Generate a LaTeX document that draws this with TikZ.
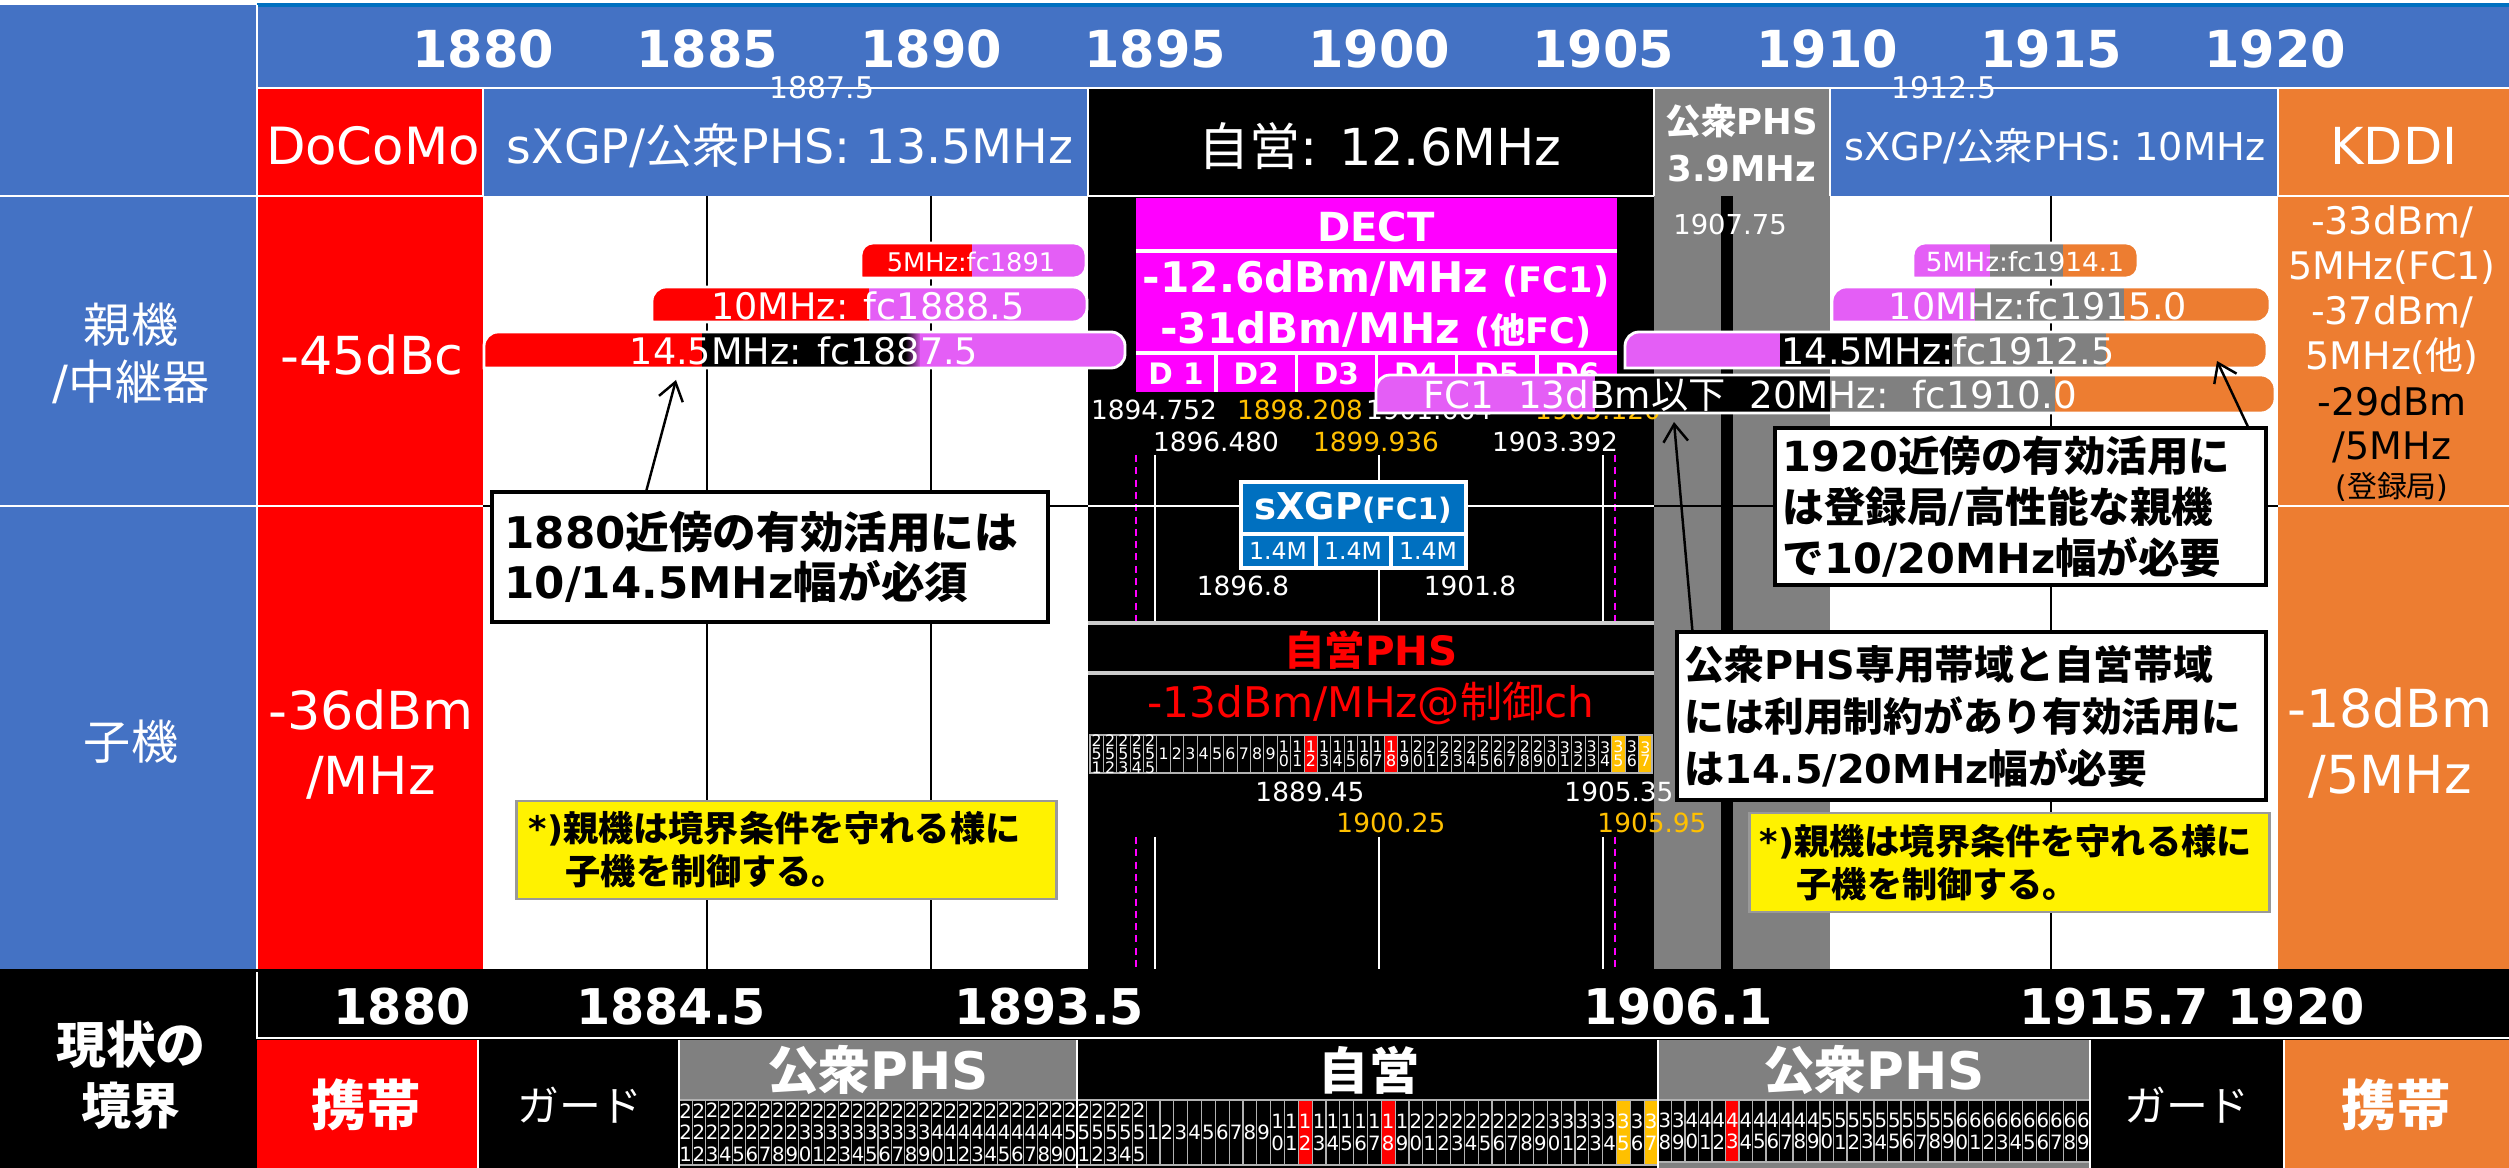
\documentclass[tikz,border=0pt]{standalone}
\usepackage{fontspec}
\setmainfont{DejaVu Sans}
\newfontfamily\latf{DejaVu Sans}
\newfontfamily\cjkf{Noto Sans CJK JP}
\usetikzlibrary{arrows.meta,calc}
\definecolor{hblue}{HTML}{4472C4}
\definecolor{dblue}{HTML}{0070C0}
\definecolor{korange}{HTML}{ED7D31}
\definecolor{pgray}{HTML}{808080}
\definecolor{lmag}{HTML}{E45EF6}
\definecolor{amber}{HTML}{FFC000}
\definecolor{dmag}{HTML}{FF00FF}
\newcommand\fsz[2]{\fontsize{#1pt}{#2pt}\selectfont}
\def\digstack#1#2\relax{#1\ifx\relax#2\relax\else\\\digstack#2\relax\fi}
\newXeTeXintercharclass\CJKcls
\newcount\cjkcnt
\newcommand\setcjkrange[2]{\cjkcnt=#1\relax
  \loop\XeTeXcharclass\cjkcnt=\CJKcls
  \ifnum\cjkcnt<#2\relax\advance\cjkcnt by 1\relax\repeat}
\setcjkrange{"3000}{"30FF}
\setcjkrange{"4E00}{"9FFF}
\setcjkrange{"FF00}{"FFEF}
\XeTeXinterchartoks 0 \CJKcls = {\cjkf}
\XeTeXinterchartoks 4095 \CJKcls = {\cjkf}
\XeTeXinterchartoks \CJKcls 0 = {\latf}
\XeTeXinterchartoks \CJKcls 4095 = {\latf}
\AtBeginDocument{\XeTeXinterchartokenstate=1}
\newcommand\chgrid[7]{%
  \foreach \x [count=\i from 0] in {#7} {%
    \pgfmathsetmacro\xa{#1+\i*#2}%
    \pgfmathsetmacro\xb{#1+(\i+1)*#2}%
    \pgfmathsetmacro\xm{#1+(\i+0.5)*#2}%
    \def\cellcol{black}%
    \ifnum\x=12 \def\cellcol{red}\fi
    \ifnum\x=18 \def\cellcol{red}\fi
    \ifnum\x=43 \def\cellcol{red}\fi
    \ifnum\x=35 \def\cellcol{amber}\fi
    \ifnum\x=37 \def\cellcol{amber}\fi
    \fill[\cellcol] (\xa,#3) rectangle (\xb,#4);
    \draw[gridln] (\xa,#3) rectangle (\xb,#4);
    \node[text=white,font=#5,align=center] (#6\i) at (\xm,{(#3+#4)/2}) {\expandafter\digstack\x\relax};
  }}
\begin{document}
\begin{tikzpicture}[x=0.01cm,y=-0.01cm,
  every node/.style={inner sep=0pt,outer sep=0pt},
  wt/.style={text=white},
  bline/.style={black,line width=0.6pt},
  wline/.style={white,line width=0.7pt},
  mdashl/.style={dmag,dashed,line width=0.5pt,dash pattern=on 2pt off 1.5pt},
  lgline/.style={white!80!black,line width=0.9pt},
  gridln/.style={white!70!black,line width=0.3pt},
  callout/.style={draw=black,line width=1.1pt,fill=white,align=left,inner ysep=0pt},
  ynote/.style={draw=black!40,line width=0.8pt,fill=yellow,align=left,inner ysep=0pt,font=\bfseries\fsz{10}{12.3}},
  arr/.style={-{Straight Barb[length=5pt,width=7pt]},line width=0.7pt},
  flab/.style={font=\fsz{7.5}{8}},
  bartext/.style={text=white,font=\fsz{10.4}{11}},
  barout/.style={white,line width=0.8pt}]
\useasboundingbox (0,0) rectangle (2509,1168);
\fill[white] (0,0) rectangle (2509,1168);
% ---------- backgrounds
\fill[hblue] (0,5) rectangle (257,969);
\fill[hblue] (257,5) rectangle (2509,87);
\draw[dblue,line width=1.2pt] (257,5) -- (2509,5);
\fill[red] (257,89) rectangle (483,969);
\fill[hblue] (483,89) rectangle (1088,196);
\fill[black] (1088,89) rectangle (1654,969);
\fill[pgray] (1654,89) rectangle (1830,969);
\fill[hblue] (1830,89) rectangle (2278,196);
\fill[korange] (2278,89) rectangle (2509,969);
% ---------- body lines
\foreach \xx in {707,931,2051} \draw[bline] (\xx,196) -- (\xx,969);
\draw[bline] (483,506) -- (1088,506);
\draw[bline] (1654,506) -- (2278,506);
\fill[black] (1721,196) rectangle (1733,969);
\foreach \xx in {1155,1379,1603} {\draw[wline] (\xx,455) -- (\xx,623); \draw[wline] (\xx,837) -- (\xx,969);}
\foreach \xx in {1136,1615} {\draw[mdashl] (\xx,455) -- (\xx,623); \draw[mdashl] (\xx,837) -- (\xx,969);}
\draw[wline] (1088,506) -- (1654,506);
\draw[wline] (0,506) -- (483,506);
\draw[wline] (2278,506) -- (2509,506);
\draw[wline] (0,196) -- (483,196);
\draw[wline] (1088,196) -- (1654,196);
\draw[wline] (2278,196) -- (2509,196);
\draw[wline] (257,88) -- (2509,88);
\draw[wline] (257,5) -- (257,969);
\foreach \xx in {483,1088,1654,1830,2278} \draw[wline] (\xx,89) -- (\xx,196);
% ---------- header texts
\foreach \f in {1880,1885,...,1920}
  \node[wt,font=\bfseries\fsz{14.5}{16}] (yr\f) at ({483+(\f-1880)*44.8},49) {\f};
\node[wt,font=\fsz{8.5}{9}] (m1) at (822,88) {1887.5};
\node[wt,font=\fsz{8.5}{9}] (m2) at (1944,88) {1912.5};
\node[wt,font=\fsz{14.6}{16}] (docomo) at (373,146) {DoCoMo};
\node[wt,font=\fsz{13.5}{15}] (sx1) at (790,146) {sXGP/公衆PHS: 13.5MHz};
\node[wt,font=\fsz{14.5}{16}] (jiei) at (1380,146) {自営: 12.6MHz};
\node[wt,font=\bfseries\fsz{10.1}{13.4},align=center] (pub39) at (1742,143) {公衆PHS\\3.9MHz};
\node[wt,font=\fsz{10.9}{12}] (sx2) at (2055,146) {sXGP/公衆PHS: 10MHz};
\node[wt,font=\fsz{14.5}{16}] (kddi) at (2394,146) {KDDI};
% ---------- left columns
\node[wt,font=\fsz{13.4}{16.2},align=center] (oya) at (131,353) {親機\\/中継器};
\node[wt,font=\fsz{13.4}{15}] (ko) at (131,742) {子機};
\node[wt,font=\fsz{14.9}{17}] (c45) at (372,355) {-45dBc};
\node[wt,font=\fsz{14.9}{18.5},align=center] (c36) at (371,745) {-36dBm\\/MHz};
% ---------- KDDI column
\node[wt,font=\fsz{10.8}{12.8},align=center] (k1) at (2392,290) {-33dBm/\\5MHz(FC1)\\-37dBm/\\5MHz(他)};
\node[font=\fsz{10.8}{12.5},align=center] (k2) at (2392,425) {-29dBm\\/5MHz};
\node[font=\fsz{8.5}{9}] (k3) at (2392,487) {(登録局)};
\node[wt,font=\fsz{14.9}{19},align=center] (k4) at (2390,743) {-18dBm\\/5MHz};
% ---------- gray column label
\node[wt,font=\fsz{7.8}{8}] (g1) at (1730,225) {1907.75};
% ---------- DECT
\fill[dmag] (1136,198) rectangle (1617,392);
\draw[white,line width=1pt] (1136,251) -- (1617,251) (1136,353) -- (1617,353);
\foreach \k in {1,...,5} \draw[white,line width=1pt] ({1136+\k*80.17},353) -- ({1136+\k*80.17},392);
\node[wt,font=\bfseries\fsz{11.4}{12}] (dect) at (1376,227) {DECT};
\node[wt,font=\bfseries\fsz{12}{13}] (dd1) at (1376,279) {-12.6dBm/MHz {\fsz{10}{11}(FC1)}};
\node[wt,font=\bfseries\fsz{12}{13}] (dd2) at (1376,330) {-31dBm/MHz {\fsz{10}{11}(他FC)}};
\foreach \k/\lab in {1/D 1,2/D2,3/D3,4/D4,5/D5,6/D6}
  \node[wt,font=\bfseries\fsz{8.4}{9}] (dc\k) at ({1136+(\k-0.5)*80.17},374) {\lab};
\node[wt,flab] (f1) at (1154,410) {1894.752};
\node[text=amber,flab] (f2) at (1300,410) {1898.208};
\node[wt,flab] (f3) at (1429,410) {1901.664};
\node[text=amber,flab] (f4) at (1598,410) {1905.120};
\node[wt,flab] (f5) at (1216,442) {1896.480};
\node[text=amber,flab] (f6) at (1376,442) {1899.936};
\node[wt,flab] (f7) at (1555,442) {1903.392};
% ---------- sXGP
\fill[dblue] (1241,482) rectangle (1466,568);
\draw[white,line width=1pt] (1241,482) rectangle (1466,568) (1241,534) -- (1466,534) (1316,534) -- (1316,568) (1391,534) -- (1391,568);
\node[wt,font=\bfseries\fsz{10.5}{11}] (sxgp) at (1353,508) {sXGP{\fsz{8.4}{9}(FC1)}};
\node[wt,font=\fsz{6.7}{7}] (s1) at (1278,551) {1.4M};
\node[wt,font=\fsz{6.7}{7}] (s2) at (1353,551) {1.4M};
\node[wt,font=\fsz{6.7}{7}] (s3) at (1428,551) {1.4M};
\node[wt,flab] (s4) at (1243,586) {1896.8};
\node[wt,flab] (s5) at (1470,586) {1901.8};
% ---------- private PHS
\draw[lgline] (1088,623) -- (1654,623) (1088,673) -- (1654,673);
\node[text=red,font=\bfseries\fsz{11.5}{12}] (jphs) at (1371,650) {自営PHS};
\node[text=red,font=\fsz{12}{13}] (jdbm) at (1371,703) {-13dBm/MHz@制御ch};
\chgrid{1090}{13.38}{735}{773}{\fsz{4.5}{3.85}}{mg}{251,252,253,254,255,1,2,3,4,5,6,7,8,9,10,11,12,13,14,15,16,17,18,19,20,21,22,23,24,25,26,27,28,29,30,31,32,33,34,35,36,37}
\node[wt,flab] (p1) at (1310,792) {1889.45};
\node[wt,flab] (p2) at (1619,792) {1905.35};
\node[text=amber,flab] (p3) at (1391,823) {1900.25};
\node[text=amber,flab] (p4) at (1652,823) {1905.95};
% ---------- bars left
\begin{scope}
\clip (861,278) [rounded corners=0.12cm] -- (861,243) -- (1086,243) -- (1086,278) [sharp corners] -- cycle;
\fill[red] (861,243) rectangle (972,278);
\fill[lmag] (972,243) rectangle (1086,278);
\end{scope}
\draw[barout] (861,278) [rounded corners=0.12cm] -- (861,243) -- (1086,243) -- (1086,278) [sharp corners] -- cycle;
\node[wt,font=\fsz{7.3}{8}] (bl5) at (971,262) {5MHz:fc1891};
\begin{scope}
\clip (652,322) [rounded corners=0.14cm] -- (652,287) -- (1087,287) -- (1087,322) [sharp corners] -- cycle;
\fill[red] (652,287) rectangle (869,322);
\fill[lmag] (869,287) rectangle (1087,322);
\end{scope}
\draw[barout] (652,322) [rounded corners=0.14cm] -- (652,287) -- (1087,287) -- (1087,322) [sharp corners] -- cycle;
\node[bartext] (bl10) at (868,306) {10MHz: fc1888.5};
\begin{scope}
\clip (484,368) [rounded corners=0.14cm] -- (484,332) -- (1125,332) -- (1125,368) [sharp corners] -- cycle;
\fill[red] (484,332) rectangle (702,368);
\fill[black] (702,332) rectangle (905,368);
\shade[left color=black,right color=lmag] (905,332) rectangle (921,368);
\fill[lmag] (920,332) rectangle (1125,368);
\end{scope}
\draw[barout] (484,368) [rounded corners=0.14cm] -- (484,332) -- (1125,332) -- (1125,368) [sharp corners] -- cycle;
\node[bartext] (bl14) at (804,351) {14.5MHz: fc1887.5};
% ---------- bars right
\begin{scope}
\clip (1913,278) [rounded corners=0.12cm] -- (1913,243) -- (2138,243) -- (2138,278) [sharp corners] -- cycle;
\fill[lmag] (1913,243) rectangle (1990,278);
\fill[pgray] (1990,243) rectangle (2063,278);
\fill[korange] (2063,243) rectangle (2138,278);
\end{scope}
\draw[barout] (1913,278) [rounded corners=0.12cm] -- (1913,243) -- (2138,243) -- (2138,278) [sharp corners] -- cycle;
\node[wt,font=\fsz{7.5}{8}] (br5) at (2025,262) {5MHz:fc1914.1};
\begin{scope}
\clip (1832,322) [rounded corners=0.14cm] -- (1832,287) -- (2270,287) -- (2270,322) [sharp corners] -- cycle;
\fill[lmag] (1832,287) rectangle (1975,322);
\fill[pgray] (1975,287) rectangle (2124,322);
\fill[korange] (2124,287) rectangle (2270,322);
\end{scope}
\draw[barout] (1832,322) [rounded corners=0.14cm] -- (1832,287) -- (2270,287) -- (2270,322) [sharp corners] -- cycle;
\node[bartext] (br10) at (2038,306) {10MHz:fc1915.0};
\begin{scope}
\clip (1625,368) [rounded corners=0.14cm] -- (1625,332) -- (2267,332) -- (2267,368) [sharp corners] -- cycle;
\fill[lmag] (1625,332) rectangle (1780,368);
\fill[black] (1780,332) rectangle (1952,368);
\fill[pgray] (1952,332) rectangle (2106,368);
\fill[korange] (2106,332) rectangle (2267,368);
\end{scope}
\draw[barout] (1625,368) [rounded corners=0.14cm] -- (1625,332) -- (2267,332) -- (2267,368) [sharp corners] -- cycle;
\node[bartext] (br14) at (1948,351) {14.5MHz:fc1912.5};
\begin{scope}
\clip (1376,413) [rounded corners=0.14cm] -- (1376,375) -- (2275,375) -- (2275,413) [sharp corners] -- cycle;
\fill[lmag] (1376,375) rectangle (1595,413);
\fill[black] (1595,375) rectangle (1830,413);
\fill[pgray] (1830,375) rectangle (2055,413);
\fill[korange] (2055,375) rectangle (2275,413);
\end{scope}
\draw[barout] (1376,413) [rounded corners=0.14cm] -- (1376,375) -- (2275,375) -- (2275,413) [sharp corners] -- cycle;
\node[wt,font=\fsz{10.6}{11}] (bfc) at (1750,395) {FC1~~13dBm以下~~20MHz:~~fc1910.0};
% ---------- callouts
\node[callout,font=\bfseries\fsz{12.4}{14.2},inner xsep=0.12cm,text width=5.31cm,minimum height=1.3cm] (cA) at (770,557) {1880近傍の有効活用には\\10/14.5MHz幅が必須};
\node[callout,font=\bfseries\fsz{11.8}{14.5},inner xsep=0.08cm,text width=4.75cm,minimum height=1.57cm] (cB) at (2020.5,506.5) {1920近傍の有効活用に\\は登録局/高性能な親機\\で10/20MHz幅が必要};
\node[callout,font=\bfseries\fsz{11.3}{14.8},inner xsep=0.08cm,text width=5.73cm,minimum height=1.68cm] (cD) at (1971.5,716) {公衆PHS専用帯域と自営帯域\\には利用制約があり有効活用に\\は14.5/20MHz幅が必要};
\node[ynote,inner xsep=0.12cm,text width=5.15cm,minimum height=0.98cm] (nE) at (786.5,850) {*)親機は境界条件を守れる様に\\\hspace*{1.05em}子機を制御する。};
\node[ynote,inner xsep=0.1cm,text width=4.99cm,minimum height=0.99cm] (nF) at (2009.5,862.5) {*)親機は境界条件を守れる様に\\\hspace*{1.05em}子機を制御する。};
\coordinate (tA) at (676,380);
\coordinate (tB) at (2217,361);
\coordinate (tC) at (1674,422);
\draw[arr] ($(cA.north)+(-124,0)$) -- (tA);
\draw[arr] ($(cB.north)+(228,0)$) -- (tB);
\draw[arr] ($(cD.north)+(-279,0)$) -- (tC);
% ---------- bottom section
\fill[black] (0,969) rectangle (2509,1168);
\draw[wline] (257,972) -- (257,1038) -- (2509,1038);
\node[wt,font=\bfseries\fsz{14}{16}] (b1) at (402,1007) {1880};
\node[wt,font=\bfseries\fsz{14}{16}] (b2) at (671,1007) {1884.5};
\node[wt,font=\bfseries\fsz{14}{16}] (b3) at (1049,1007) {1893.5};
\node[wt,font=\bfseries\fsz{14}{16}] (b4) at (1678,1007) {1906.1};
\node[wt,font=\bfseries\fsz{14}{16}] (b5) at (2114,1007) {1915.7};
\node[wt,font=\bfseries\fsz{14}{16}] (b6) at (2296,1007) {1920};
\node[wt,font=\bfseries\fsz{14.2}{17.4},align=center] (gk) at (131,1075) {現状の\\境界};
\fill[red] (257,1040) rectangle (478,1168);
\fill[pgray] (679,1040) rectangle (1077,1100);
\fill[pgray] (1658,1040) rectangle (2090,1100);
\fill[pgray] (1658,1163) rectangle (2090,1168);
\fill[korange] (2284,1040) rectangle (2509,1168);
\chgrid{679}{13.267}{1100}{1165}{\fsz{5.6}{6.2}}{ga}{221,...,250}
\chgrid{1077}{13.833}{1100}{1165}{\fsz{5.6}{6.2}}{gb}{251,252,253,254,255,1,2,3,4,5,6,7,8,9,10,11,12,13,14,15,16,17,18,19,20,21,22,23,24,25,26,27,28,29,30,31,32,33,34,35,36,37}
\chgrid{1658}{13.5}{1100}{1162}{\fsz{5.6}{6.2}}{gc}{38,...,69}
\foreach \xx in {478,679,1077,1658,2090,2284} \draw[wline] (\xx,1040) -- (\xx,1168);
\node[wt,font=\bfseries\fsz{15.5}{16}] (kt1) at (366,1105) {携帯};
\node[wt,font=\fsz{11.9}{13}] (gd1) at (580,1105) {ガード};
\node[wt,font=\bfseries\fsz{14.7}{16}] (ph1) at (878,1070) {公衆PHS};
\node[wt,font=\bfseries\fsz{14.3}{16}] (jb) at (1369,1070) {自営};
\node[wt,font=\bfseries\fsz{14.7}{16}] (ph2) at (1874,1070) {公衆PHS};
\node[wt,font=\fsz{11.9}{13}] (gd2) at (2187,1105) {ガード};
\node[wt,font=\bfseries\fsz{15.5}{16}] (kt2) at (2396,1105) {携帯};
\end{tikzpicture}
\end{document}
